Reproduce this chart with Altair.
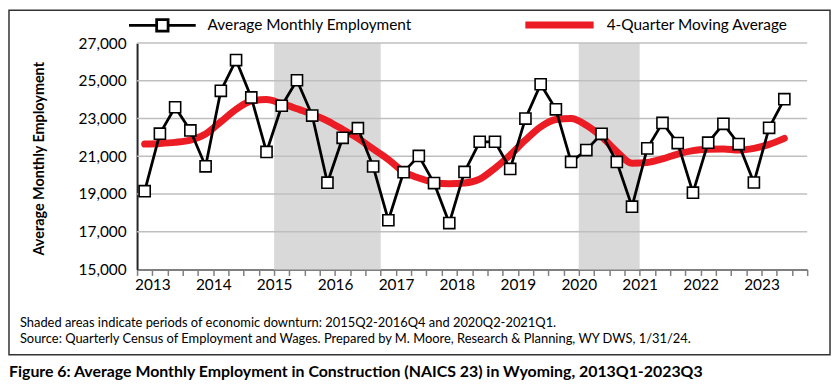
import altair as alt
import pandas as pd

# ---------------- data ----------------
years = list(range(2013, 2024))
quarters = [f"{y}Q{q}" for y in years for q in range(1, 5)][:43]
slots = [f"{y}Q{q}" for y in years for q in range(1, 5)]  # axis runs through 2023Q4

employment = [19150, 22200, 23600, 22370, 20470, 24470, 26100, 24120, 21230, 23680,
              25030, 23160, 19600, 21980, 22490, 20460, 17610, 20160, 21020, 19580,
              17460, 20170, 21770, 21770, 20330, 23000, 24820, 23490, 20700, 21330,
              22190, 20700, 18330, 21420, 22770, 21700, 19070, 21720, 22720, 21650,
              19610, 22510, 24030]
moving_avg = [21650, 21680, 21740, 21860, 22180, 22830, 23490, 23930, 24010, 23790,
              23520, 23230, 22880, 22420, 21950, 21390, 20830, 20180, 19850, 19610,
              19540, 19580, 19790, 20370, 21070, 21860, 22560, 22950, 23000, 22650,
              22040, 21250, 20630, 20670, 20860, 21120, 21300, 21370, 21390, 21330,
              21420, 21630, 21950]

downturns = [("2015Q2", "2016Q4"), ("2020Q2", "2021Q1")]
y_ticks = [15000, 17000, 19000, 21000, 23000, 25000, 27000]

S1 = "Average Monthly Employment"
S2 = "4-Quarter Moving Average"
caption = [
    "Shaded areas indicate periods of economic downturn: 2015Q2-2016Q4 and 2020Q2-2021Q1.",
    "Source: Quarterly Census of Employment and Wages. Prepared by M. Moore, Research & Planning, WY DWS, 1/31/24.",
]
fig_title = "Figure 6: Average Monthly Employment in Construction (NAICS 23) in Wyoming, 2013Q1-2023Q3"

# ---------------- tables ----------------
idx = list(range(len(quarters)))
emp_df = pd.DataFrame({"i": idx, "value": employment, "series": S1, "q": quarters})
ma_df = pd.DataFrame({"i": idx, "value": moving_avg, "series": S2, "q": quarters})
shade_df = pd.DataFrame({
    "i": [slots.index(a) - 0.5 for a, b in downturns],
    "end": [slots.index(b) + 0.5 for a, b in downturns],
    "value": [y_ticks[0]] * len(downturns),
    "hi": [y_ticks[-1]] * len(downturns),
})
grid_df = pd.DataFrame({"value": y_ticks[1:]})

W, H = 675, 228
FONT = "Lato"
xdom = [-0.5, len(slots) - 0.5]
ydom = [y_ticks[0], y_ticks[-1]]

x_scale = alt.Scale(domain=xdom, nice=False, zero=False)
y_scale = alt.Scale(domain=ydom, nice=False, zero=False)

x_axis = alt.Axis(
    values=[k - 0.5 for k in range(len(slots) + 1)],
    labelExpr=f"(datum.value > 0 && (datum.value - 0.5) % 4 == 0) ? '' + ({years[0]} + (datum.value - 0.5) / 4) : ''",
    labelOverlap=False, labelFlush=False, labelBound=False,
    grid=False, title=None, tickSize=6, tickWidth=1.5, tickColor="#7f7f7f",
    domainColor="#7f7f7f", domainWidth=2, labelFontSize=15.5, labelFont=FONT,
    labelColor="#000000", labelPadding=2,
)
y_axis = alt.Axis(
    values=y_ticks, labelExpr="format(datum.value, ',.0f')", grid=False, ticks=False,
    labelOverlap=False,
    labelFontSize=15.5, labelFont=FONT, labelColor="#000000", labelPadding=11,
    domainColor="#262626", domainWidth=2,
    title="Average Monthly Employment", titleFont=FONT, titleFontSize=14.5,
    titleFontWeight="bold", titleColor="#000000", titleAngle=270,
    titleX=-98, titleY=H / 2 + 2, titleAlign="center", titleBaseline="middle",
)


def X(field="i"):
    return alt.X(f"{field}:Q", scale=x_scale, axis=x_axis)


def Y(field="value"):
    return alt.Y(f"{field}:Q", scale=y_scale, axis=y_axis)


shade = alt.Chart(shade_df).mark_rect(color="#d9d9d9").encode(
    x=X(), x2="end:Q", y=Y(), y2="hi:Q",
)

grid = alt.Chart(grid_df).mark_rule(color="#bfbfbf", strokeWidth=1.5).encode(
    y=Y(), x=alt.value(0), x2=alt.value(W),
)

red_line = alt.Chart(ma_df).mark_line(
    color="#ec1c24", strokeWidth=7, strokeCap="round", strokeJoin="round",
    interpolate="monotone",
).encode(x=X(), y=Y())

black_line = alt.Chart(emp_df).mark_line(
    color="#000000", strokeWidth=2.8, strokeJoin="round",
).encode(x=X(), y=Y())

squares = alt.Chart(emp_df).mark_point(
    shape="square", filled=True, fill="#ffffff", stroke="#000000",
    strokeWidth=1.6, size=125, opacity=1,
).encode(x=X(), y=Y())

# legend carrier (no visible marks, only drives the legend through scales)
path_a = "M-4.2,0H-0.75M0.75,0H4.2M-0.72,-0.72H0.72V0.72H-0.72Z"
path_b = "M-4.3,0H4.3"
legend_layer = alt.Chart(pd.concat([emp_df, ma_df])).transform_filter("datum.i < 0").mark_point(
    filled=True, fill="#ffffff", opacity=1, size=256,
).encode(
    x=X(), y=Y(),
    stroke=alt.Stroke("series:N", scale=alt.Scale(domain=[S1, S2], range=["#000000", "#ec1c24"]),
                      legend=alt.Legend(
                          title=None, orient="none", direction="horizontal",
                          legendX=16, legendY=-30, labelFont=FONT, labelFontSize=15.5,
                          labelColor="#000000", symbolSize=256, labelOffset=36,
                          labelLimit=400, columnPadding=100, padding=0,
                          symbolFillColor="#ffffff",
                      )),
    strokeWidth=alt.StrokeWidth("series:N", scale=alt.Scale(type="ordinal", domain=[S1, S2], range=[2.8, 7])),
    shape=alt.Shape("series:N", scale=alt.Scale(domain=[S1, S2], range=[path_a, path_b])),
)

frame = alt.Chart(pd.DataFrame({"k": [0]})).mark_rect(
    fillOpacity=0, stroke="#333333", strokeWidth=1.5,
).encode(x=alt.value(-129), x2=alt.value(698), y=alt.value(-33), y2=alt.value(314))

cap1 = alt.Chart(pd.DataFrame({"t": caption[:1]})).mark_text(
    align="left", baseline="alphabetic", font=FONT, fontSize=13, color="#000000",
).encode(text="t:N", x=alt.value(-118), y=alt.value(286))
cap2 = alt.Chart(pd.DataFrame({"t": caption[1:]})).mark_text(
    align="left", baseline="alphabetic", font=FONT, fontSize=13, color="#000000",
).encode(text="t:N", x=alt.value(-118), y=alt.value(302))

title_text = alt.Chart(pd.DataFrame({"t": [fig_title]})).mark_text(
    align="left", baseline="alphabetic", font=FONT, fontSize=16, fontWeight="bold",
    color="#000000",
).encode(text="t:N", x=alt.value(-129), y=alt.value(336))

chart = alt.layer(
    shade, grid, red_line, black_line, squares, legend_layer, frame, cap1, cap2, title_text,
).properties(
    width=W, height=H,
    autosize=alt.AutoSizeParams(type="none"),
    padding={"left": 130, "top": 34, "right": 25, "bottom": 115},
    background="#ffffff",
).configure_view(stroke=None)

chart.save("out.html", embed_options={"renderer": "svg", "actions": False})
